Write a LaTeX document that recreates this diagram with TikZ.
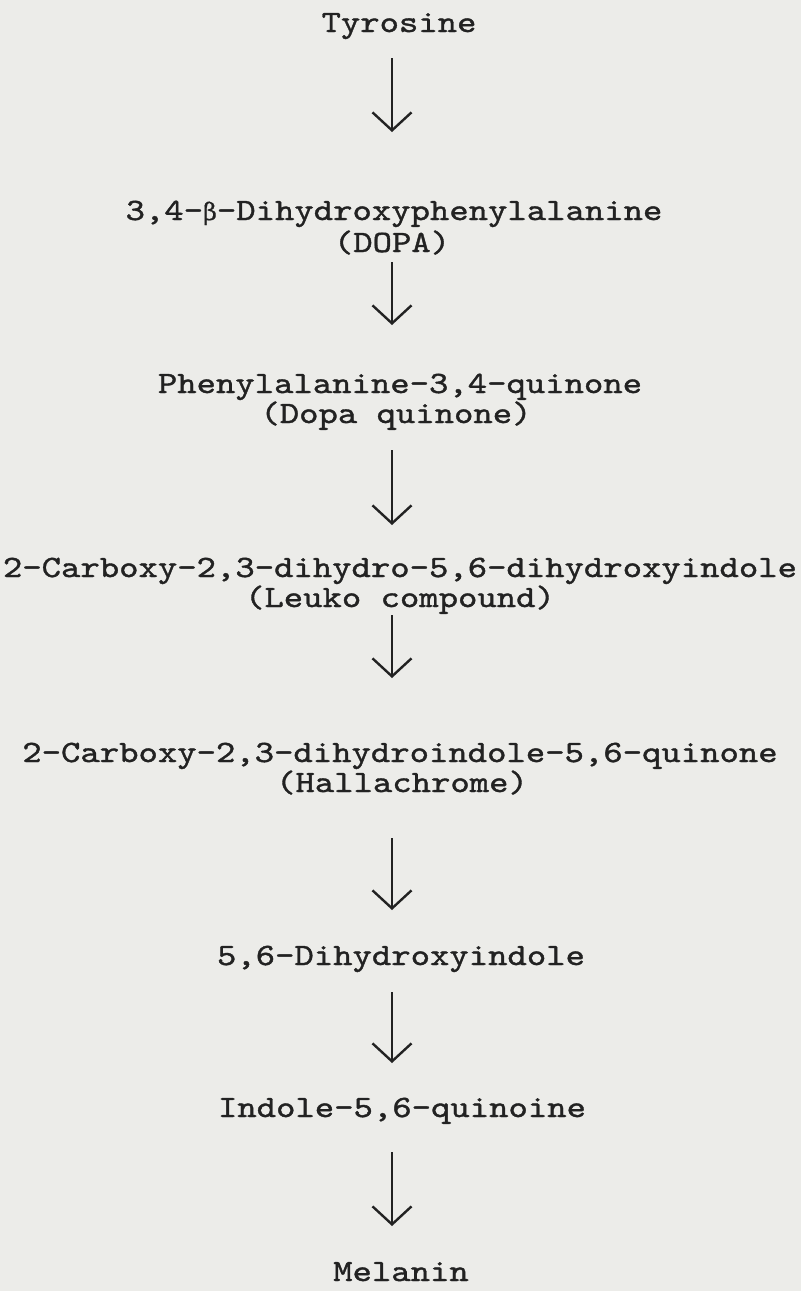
\documentclass[tikz,border=0pt]{standalone}
\usepackage{fontspec}
\usetikzlibrary{arrows.meta,calc}
\newfontfamily\tw[FakeStretch=1.19,FakeBold=1.2]{lmmono10-regular.otf}
\newfontfamily\gk[FakeBold=0.6]{DejaVu Serif}
\definecolor{paper}{RGB}{236,236,233}
\definecolor{ink}{RGB}{34,34,34}
\begin{document}
\begin{tikzpicture}[x=1pt,y=-1pt,
  lbl/.style={anchor=base, inner sep=0pt, text=ink, font=\tw\fontsize{31}{31}\selectfont},
  arr/.style={draw=ink, line width=2.4pt, -{Straight Barb[length=18pt,width=39pt,line width=2.4pt]}}]
\fill[paper] (0,0) rectangle (801,1291);
\useasboundingbox (0,0) rectangle (801,1291);
\coordinate (ax) at (392,0);
\node[lbl] (t1) at (399,32) {Tyrosine};
\node[lbl] (t2) at (394,220) {3,4-{\gk\fontsize{24}{24}\selectfont β}-Dihydroxyphenylalanine};
\node[lbl] (t2b) at (392,252) {(DOPA)};
\node[lbl] (t3) at (400,393) {Phenylalanine-3,4-quinone};
\node[lbl] (t3b) at (396,423) {(Dopa quinone)};
\node[lbl] (t4) at (400,577) {2-Carboxy-2,3-dihydro-5,6-dihydroxyindole};
\node[lbl] (t4b) at (400,607) {(Leuko compound)};
\node[lbl] (t5) at (400,762) {2-Carboxy-2,3-dihydroindole-5,6-quinone};
\node[lbl] (t5b) at (402,792) {(Hallachrome)};
\node[lbl] (t6) at (401,965) {5,6-Dihydroxyindole};
\node[lbl] (t7) at (402,1117) {Indole-5,6-quinoine};
\node[lbl] (t8) at (401,1281) {Melanin};
\draw[arr] ($(t1.base -| ax)+(0,26)$) -- ($(t2.base -| ax)+(0,-88)$);
\draw[arr] ($(t2b.base -| ax)+(0,10)$) -- ($(t3.base -| ax)+(0,-68)$);
\draw[arr] ($(t3b.base -| ax)+(0,27)$) -- ($(t4.base -| ax)+(0,-52)$);
\draw[arr] ($(t4b.base -| ax)+(0,8)$) -- ($(t5.base -| ax)+(0,-84)$);
\draw[arr] ($(t5b.base -| ax)+(0,46)$) -- ($(t6.base -| ax)+(0,-55)$);
\draw[arr] ($(t6.base -| ax)+(0,27)$) -- ($(t7.base -| ax)+(0,-54)$);
\draw[arr] ($(t7.base -| ax)+(0,35)$) -- ($(t8.base -| ax)+(0,-55)$);
\end{tikzpicture}
\end{document}
